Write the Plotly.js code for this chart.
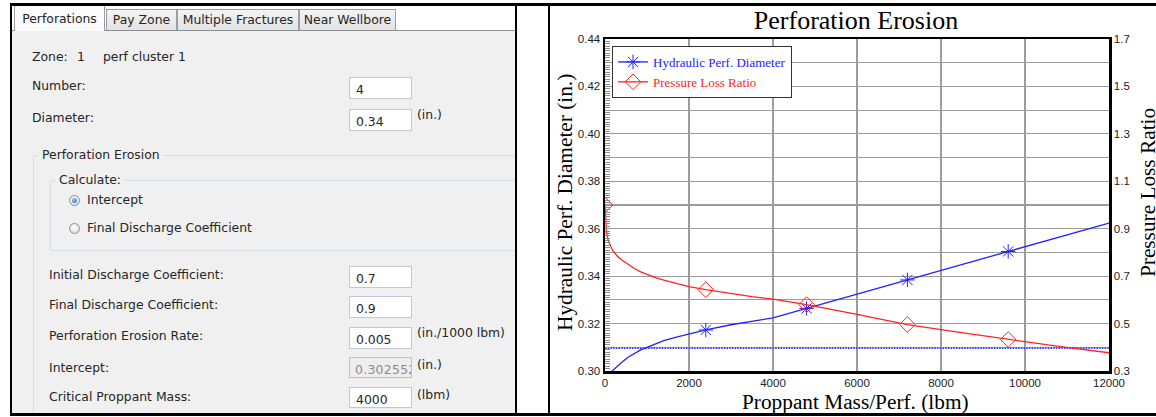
<!DOCTYPE html>
<html>
<head>
<meta charset="utf-8">
<script src="https://cdn.plot.ly/plotly-3.0.1.min.js"></script>
<style>
  html, body { margin: 0; padding: 0; background: #fff; }
  body {
    width: 1156px; height: 417px; overflow: hidden; position: relative;
    font-family: "DejaVu Sans", sans-serif; font-size: 12.4px; color: #262626;
  }
  .bar { position: absolute; background: #000; z-index: 10; }
  #formClip { position: absolute; left: 0; top: 0; width: 515px; height: 413px; overflow: hidden; }
  .t { position: absolute; line-height: 16px; white-space: nowrap; }
  .tab {
    position: absolute; box-sizing: border-box; border: 1px solid #9a9da3; border-bottom: none;
    text-align: center; line-height: 20px;
    background: linear-gradient(#f3f3f3, #e3e3e3);
  }
  .tab.active { background: #fbfbfb; z-index: 2; line-height: 26px; }
  .group { position: absolute; box-sizing: border-box; border: 1px solid #d5dde3; border-radius: 3px; }
  .glabel { position: absolute; line-height: 16px; padding: 0 3px; background: #f0f0f0; white-space: nowrap; }
  .inp {
    position: absolute; left: 349px; width: 63px; box-sizing: border-box;
    background: #fff; border: 1px solid #c4c8ce; padding-left: 6px;
    overflow: hidden; white-space: nowrap; line-height: 16px; padding-top: 4px;
  }
  .inp.off { background: #eeeeee; color: #8a8a8a; border-color: #c2c2c2; padding-left: 5px; letter-spacing: 0.3px; }
  .radio {
    position: absolute; width: 11px; height: 11px; border-radius: 50%; box-sizing: border-box;
    border: 1px solid #8e8f91; background: radial-gradient(circle at 50% 40%, #ffffff, #d6d6d6);
  }
  .radio.on::after {
    content: ""; position: absolute; left: 2px; top: 2px; width: 5px; height: 5px; border-radius: 50%;
    background: radial-gradient(circle at 40% 35%, #8fd0ff, #1560c4);
  }
  #chart { position: absolute; left: 550px; top: 6px; width: 620px; height: 407px; }
</style>
</head>
<body>

<!-- input form panel -->
<div id="formClip">
  <div style="position:absolute;left:12px;top:6px;width:503px;height:24px;background:#fff;"></div>
  <div style="position:absolute;left:12px;top:30px;width:503px;height:383px;background:#f0f0f0;"></div>
  <div style="position:absolute;left:12px;top:30px;width:503px;height:1px;background:#8d9096;"></div>

  <div class="tab active" style="left:14px;top:5px;width:91px;height:26px;">Perforations</div>
  <div class="tab" style="left:106px;top:9px;width:71px;height:21px;">Pay Zone</div>
  <div class="tab" style="left:177px;top:9px;width:122px;height:21px;">Multiple Fractures</div>
  <div class="tab" style="left:299px;top:9px;width:97px;height:21px;">Near Wellbore</div>

  <div class="t" style="left:32px;top:49px;">Zone:</div>
  <div class="t" style="left:77px;top:49px;">1</div>
  <div class="t" style="left:103px;top:49px;">perf cluster 1</div>

  <div class="t" style="left:32px;top:78px;">Number:</div>
  <div class="inp" style="top:77px;height:22px;">4</div>

  <div class="t" style="left:32px;top:110px;">Diameter:</div>
  <div class="inp" style="top:109px;height:22px;">0.34</div>
  <div class="t" style="left:417px;top:107px;">(in.)</div>

  <div class="group" style="left:33px;top:155px;width:540px;height:300px;"></div>
  <div class="glabel" style="left:39px;top:147px;">Perforation Erosion</div>

  <div class="group" style="left:50px;top:180px;width:520px;height:71px;"></div>
  <div class="glabel" style="left:56px;top:172px;">Calculate:</div>

  <div class="radio on" style="left:69px;top:195px;"></div>
  <div class="t" style="left:87px;top:192px;">Intercept</div>
  <div class="radio" style="left:69px;top:223px;"></div>
  <div class="t" style="left:87px;top:220px;">Final Discharge Coefficient</div>

  <div class="t" style="left:49px;top:267px;">Initial Discharge Coefficient:</div>
  <div class="inp" style="top:266px;height:22px;">0.7</div>

  <div class="t" style="left:49px;top:297px;">Final Discharge Coefficient:</div>
  <div class="inp" style="top:296px;height:22px;">0.9</div>

  <div class="t" style="left:49px;top:328px;">Perforation Erosion Rate:</div>
  <div class="inp" style="top:327px;height:22px;">0.005</div>
  <div class="t" style="left:417px;top:325px;">(in./1000 lbm)</div>

  <div class="t" style="left:49px;top:360px;">Intercept:</div>
  <div class="inp off" style="top:357px;height:21px;">0.302552</div>
  <div class="t" style="left:417px;top:357px;">(in.)</div>

  <div class="t" style="left:49px;top:389px;">Critical Proppant Mass:</div>
  <div class="inp" style="top:387px;height:21px;">4000</div>
  <div class="t" style="left:417px;top:387px;">(lbm)</div>
</div>

<div id="chart"></div>

<!-- window frames -->
<div class="bar" style="left:10px;top:3px;width:1146px;height:3px;"></div>
<div class="bar" style="left:10px;top:413px;width:1146px;height:3px;"></div>
<div class="bar" style="left:10px;top:3px;width:2px;height:413px;"></div>
<div class="bar" style="left:515px;top:3px;width:2px;height:413px;"></div>
<div class="bar" style="left:548px;top:3px;width:2px;height:413px;"></div>

<script>
// Proppant mass per perforation (lbm) at which the curves are sampled
const proppantMass = [0, 15, 40, 80, 120, 190, 300, 400, 550, 700, 850, 1000, 1200, 1400, 1700,
                      2000, 2400, 3000, 3500, 4000, 4800, 6000, 7200, 8400, 9600, 10800, 12000];

// Hydraulic perforation diameter (in.)
const hydraulicDiameter = [0.2962, 0.2966, 0.2973, 0.2984, 0.2993, 0.3003, 0.3022, 0.3037, 0.3058,
                           0.3075, 0.3089, 0.3100, 0.3115, 0.3128, 0.3143, 0.3156, 0.3173, 0.3195,
                           0.3210, 0.3224, 0.3264, 0.3324, 0.3384, 0.3444, 0.3504, 0.3564, 0.3624];

// Pressure loss ratio (-)
const pressureLossRatio = [1.000, 0.925, 0.880, 0.848, 0.830, 0.806, 0.783, 0.768, 0.750,
                           0.732, 0.718, 0.707, 0.694, 0.683, 0.668, 0.656, 0.643, 0.626,
                           0.614, 0.603, 0.580, 0.539, 0.496, 0.464, 0.433, 0.404, 0.377];

// Proppant masses that carry a symbol on each curve
const markerMass = [0, 2400, 4800, 7200, 9600];

// Horizontal dotted diameter level (in.) and its extent
const dottedLevelMass = [0, 12000];
const dottedLevelDiameter = [0.3096, 0.3096];

// Axis tick values
const massTicks = [0, 2000, 4000, 6000, 8000, 10000, 12000];
const diameterTicks = [0.30, 0.32, 0.34, 0.36, 0.38, 0.40, 0.42, 0.44];
const ratioTicks = [0.3, 0.5, 0.7, 0.9, 1.1, 1.3, 1.5, 1.7];

const BLUE = '#2222ff';
const RED = '#ff2222';
const CLEAR = 'rgba(0,0,0,0)';
const symbolColors = (c) => proppantMass.map(m => markerMass.includes(m) ? c : CLEAR);

const gridColor = '#9c9c9c';
const tickFont = { family: 'Liberation Sans, Arial, sans-serif', size: 11.5, color: '#222' };
const serif = 'Liberation Serif, Times New Roman, serif';

const traces = [
  {
    name: '<span style="color:#2222ff">Hydraulic Perf. Diameter</span>',
    x: proppantMass, y: hydraulicDiameter, yaxis: 'y',
    mode: 'lines+markers',
    line: { color: BLUE, width: 1.3 },
    marker: { symbol: 'asterisk-open', size: 12, color: symbolColors(BLUE), line: { width: 1 } },
    hoverinfo: 'skip'
  },
  {
    name: '<span style="color:#ff2222">Pressure Loss Ratio</span>',
    x: proppantMass, y: pressureLossRatio, yaxis: 'y2',
    mode: 'lines+markers',
    line: { color: RED, width: 1.3 },
    marker: { symbol: 'diamond-open', size: 12, color: symbolColors(RED), line: { width: 1 } },
    hoverinfo: 'skip'
  },
  {
    x: dottedLevelMass, y: dottedLevelDiameter, yaxis: 'y',
    mode: 'lines', showlegend: false,
    line: { color: '#2a2aff', width: 1.4, dash: '1.5px,1.2px' },
    hoverinfo: 'skip'
  }
];

const layout = {
  width: 620, height: 407,
  margin: { l: 55, r: 61, t: 33, b: 42, pad: 0 },
  paper_bgcolor: 'rgba(0,0,0,0)', plot_bgcolor: '#fff',
  title: {
    text: 'Perforation Erosion',
    font: { family: serif, size: 26, color: '#000' },
    x: 0.498, xref: 'paper', xanchor: 'center',
    y: 1 - 14 / 407, yref: 'container', yanchor: 'middle'
  },
  xaxis: {
    range: [0, 12000], tickvals: massTicks, tickformat: 'd',
    showgrid: true, gridcolor: gridColor, gridwidth: 1.2, zeroline: false,
    showline: true, linecolor: '#000', linewidth: 2.5, mirror: true,
    ticks: '', tickfont: tickFont, fixedrange: true
  },
  yaxis: {
    range: [0.30, 0.44], tickvals: diameterTicks, tickformat: '.2f',
    showgrid: false, zeroline: false,
    showline: true, linecolor: '#000', linewidth: 2.5, mirror: true,
    ticks: 'inside', ticklen: 5, tickwidth: 1, tickcolor: '#8c8c8c',
    minor: { dtick: 0.001, tick0: 0.30, ticks: 'inside', ticklen: 5, tickwidth: 1, tickcolor: '#8c8c8c', showgrid: false },
    ticklabelshift: 4.5, tickfont: tickFont, fixedrange: true
  },
  yaxis2: {
    overlaying: 'y', side: 'right',
    range: [0.3, 1.7], tickvals: ratioTicks, tickformat: '.1f',
    showgrid: true, gridcolor: gridColor, gridwidth: 1.2, zeroline: false,
    minor: { dtick: 0.1, tick0: 0.3, showgrid: true, gridcolor: gridColor, gridwidth: 1.2 },
    showline: true, linecolor: '#000', linewidth: 2.5,
    ticks: '', ticklabelshift: 4.5, tickfont: tickFont, fixedrange: true
  },
  showlegend: true,
  legend: {
    x: 0.0139, y: 0.979, xanchor: 'left', yanchor: 'top',
    bgcolor: '#fff', bordercolor: '#333', borderwidth: 1,
    font: { family: serif, size: 13, color: '#000' }
  },
  annotations: [
    {
      text: 'Hydraulic Perf. Diameter (in.)', xref: 'paper', yref: 'paper',
      x: -0.0794, y: 0.509, textangle: -90, showarrow: false,
      xanchor: 'center', yanchor: 'middle',
      font: { family: serif, size: 21.3, color: '#000' }
    },
    {
      text: 'Pressure Loss Ratio', xref: 'paper', yref: 'paper',
      x: 1.0774, y: 0.536, textangle: -90, showarrow: false,
      xanchor: 'center', yanchor: 'middle',
      font: { family: serif, size: 21.3, color: '#000' }
    },
    {
      text: 'Proppant Mass/Perf. (lbm)', xref: 'paper', yref: 'paper',
      x: 0.498, y: -0.0934, showarrow: false,
      xanchor: 'center', yanchor: 'middle',
      font: { family: serif, size: 21.3, color: '#000' }
    }
  ]
};

Plotly.newPlot('chart', traces, layout, { displayModeBar: false, staticPlot: true });
</script>
</body>
</html>
